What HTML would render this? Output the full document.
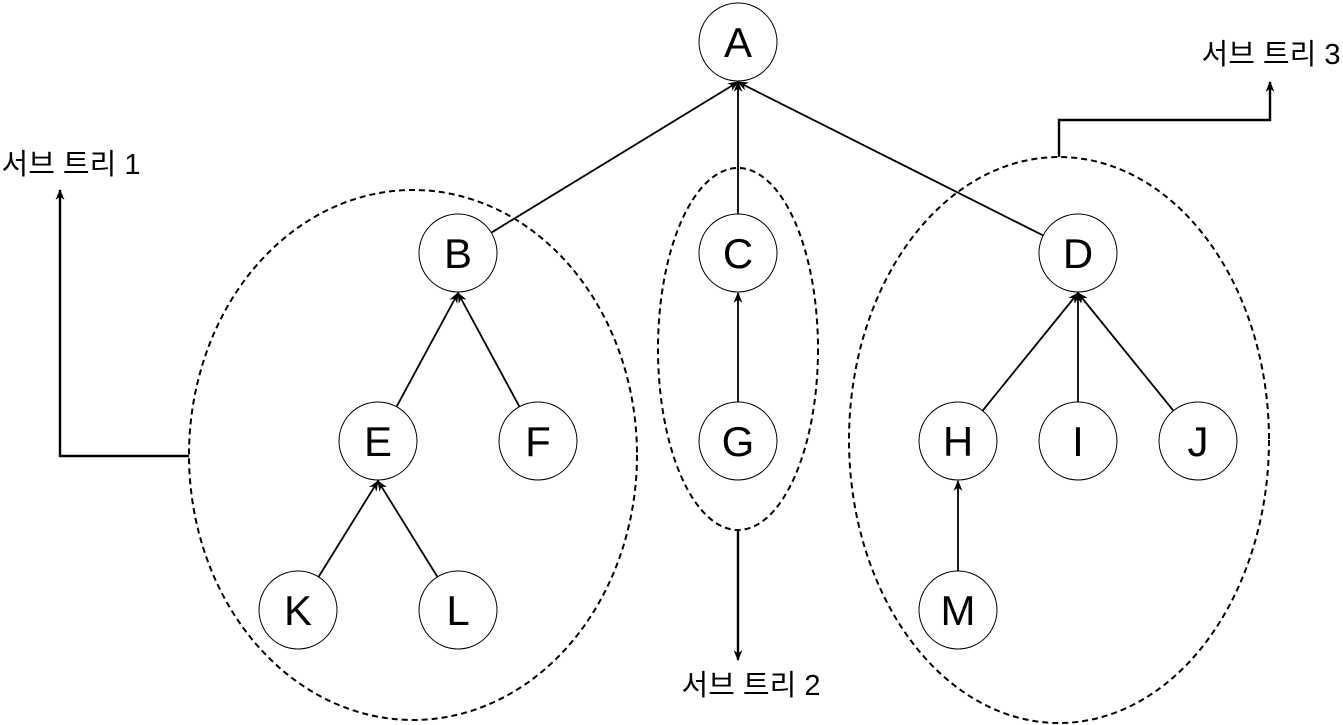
<!DOCTYPE html>
<html><head><meta charset="utf-8"><style>
html,body{margin:0;padding:0;background:#fff;}
svg{display:block;}
text{font-family:"Liberation Sans","Noto Sans CJK KR",sans-serif;}
</style></head><body>
<svg id="chart" width="1343" height="725" viewBox="0 0 1343 725" xmlns="http://www.w3.org/2000/svg">
<defs>
<marker id="arr" viewBox="0 0 10 10" refX="9" refY="5" markerWidth="11" markerHeight="11" orient="auto-start-reverse" markerUnits="userSpaceOnUse">
<path d="M0,1 L10,5 L0,9 L3,5 Z" fill="#000"/>
</marker>
</defs>
<g id="groups"></g>
<g id="edges"></g>
<g id="nodes"></g>
<g id="labels"></g>
</svg>
<script>
const nodeNames = ["A","B","C","D","E","F","G","H","I","J","K","L","M"];
const nodeX = [738,458,738,1078,378,538,738,958,1078,1198,298,458,958];
const nodeY = [42,253,253,253,441,441,441,441,441,441,610,610,610];
const edgeFrom = ["B","C","D","E","F","K","L","G","H","I","J","M"];
const edgeTo   = ["A","A","A","B","B","E","E","C","D","D","D","H"];
const R = 39;
const NS = "http://www.w3.org/2000/svg";
function mk(tag, attrs, parent){const e=document.createElementNS(NS,tag);for(const k in attrs)e.setAttribute(k,attrs[k]);parent.appendChild(e);return e;}
const idx = n => nodeNames.indexOf(n);

const g = document.getElementById('groups');
const ellipses = [[413,455,224,265,'subtree-1-boundary'],[738,349,80,181,'subtree-2-boundary'],[1059,440,210,283,'subtree-3-boundary']];
ellipses.forEach(e=>{
  const el = mk('ellipse',{cx:e[0],cy:e[1],rx:e[2],ry:e[3],fill:'none',stroke:'#000','stroke-width':2,'stroke-dasharray':'6 4'},g);
  
  
});

const eg = document.getElementById('edges');
edgeFrom.forEach((f,i)=>{
  const a=idx(f), b=idx(edgeTo[i]);
  const tx=nodeX[b], ty=nodeY[b]+R+1;
  const dx=tx-nodeX[a], dy=ty-nodeY[a], L=Math.hypot(dx,dy);
  const ux=dx/L, uy=dy/L;
  const ln = mk('line',{x1:nodeX[a]+ux*R,y1:nodeY[a]+uy*R,x2:tx,y2:ty,stroke:'#000','stroke-width':1.8,'marker-end':'url(#arr)'},eg);
  
  
});

const ng = document.getElementById('nodes');
nodeNames.forEach((n,i)=>{
  const grp = mk('g',{},ng);
  
  
  mk('circle',{cx:nodeX[i],cy:nodeY[i],r:R,fill:'#fff',stroke:'#000','stroke-width':1},grp);
  const t = mk('text',{x:nodeX[i],y:nodeY[i]+15,'text-anchor':'middle','font-size':42},grp);
  t.textContent = n;
});

const lg = document.getElementById('labels');
const conns = [
  ['M189,456 L60,456 L60,190','subtree-1-connector'],
  ['M738,530 L738,660','subtree-2-connector'],
  ['M1059,157 L1059,120 L1270,120 L1270,82','subtree-3-connector']
];
conns.forEach(c=>{
  const p = mk('path',{d:c[0],fill:'none',stroke:'#000','stroke-width':2.4,'marker-end':'url(#arr)'},lg);
  
  
});
const labelText = ["서브 트리 1","서브 트리 2","서브 트리 3"];
const labelPos = [[71,174],[751,695],[1271,64]];
labelText.forEach((s,i)=>{
  const t = mk('text',{x:labelPos[i][0],y:labelPos[i][1],'text-anchor':'middle','font-size':29},lg);
  t.textContent = s;
  
  
});
</script>
</body></html>
